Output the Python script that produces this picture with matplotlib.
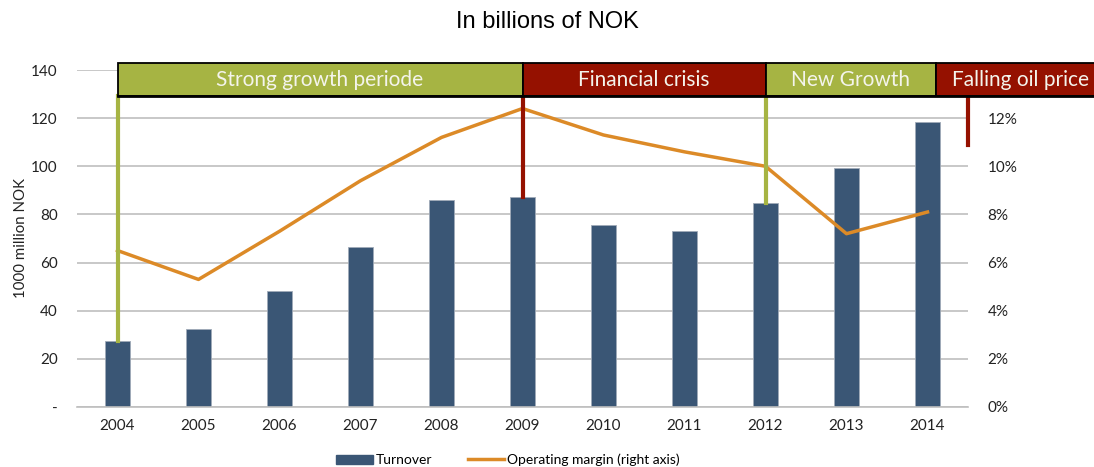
import matplotlib
matplotlib.use("Agg")
import matplotlib.pyplot as plt
from matplotlib.patches import Rectangle, Patch
from matplotlib.lines import Line2D

years = ["2004", "2005", "2006", "2007", "2008", "2009", "2010", "2011", "2012", "2013", "2014"]
turnover = [27.5, 32.5, 48.0, 66.5, 85.8, 87.4, 75.7, 73.0, 84.7, 99.1, 118.5]
margin = [0.065, 0.053, 0.073, 0.094, 0.112, 0.124, 0.113, 0.106, 0.100, 0.072, 0.081]

period_labels = ["Strong growth periode", "Financial crisis", "New Growth", "Falling oil price"]
period_start = [0, 5, 8, 10.11]
period_end = [5, 8, 10.11, 12.2]
period_text_x = [2.5, 6.5, 9.055, 11.15]
period_colors = ["#A6B443", "#951100", "#A6B443", "#951100"]
marker_x = [0, 5, 8, 10.5]
marker_bottom = [27.5, 87.4, 84.7, 109]
marker_colors = ["#A6B443", "#951100", "#A6B443", "#951100"]

BAR = "#3A5675"
LINE = "#DC8A27"
GRID = "#BFBFBF"
FONT = "Lato"

fig = plt.figure(figsize=(10.94, 4.67), dpi=100)
ax = fig.add_axes([77/1094, 1-407/467, (968-77)/1094, (407-70)/467])
ax2 = ax.twinx()

x = list(range(len(years)))
ax.bar(x, turnover, width=0.31, color=BAR, edgecolor="#A0AAB8", linewidth=0.6, zorder=2)
ax.set_xlim(-0.5, 10.5)
ax.set_ylim(0, 140)
ax.set_yticks(range(0, 141, 20))
ax.set_yticklabels(["-"] + [str(v) for v in range(20, 141, 20)])
ax.yaxis.grid(True, color=GRID, linewidth=1.2, zorder=0)
ax.set_axisbelow(True)
ax.set_xticks(x)
ax.set_xticklabels(years)
for s in ax.spines.values():
    s.set_visible(False)
ax.spines["bottom"].set_visible(True)
ax.spines["bottom"].set_color(GRID)
ax.spines["bottom"].set_linewidth(1.2)
ax.tick_params(axis="both", length=0, labelsize=11, colors="#222222", labelfontfamily=FONT)
ax.tick_params(axis="y", pad=14)
ax.tick_params(axis="x", pad=9)
ax.set_ylabel("1000 million NOK", fontsize=10.8, family=FONT, color="#222222", labelpad=2)

ax2.plot(x, margin, color=LINE, linewidth=2.5, zorder=3)
ax2.set_ylim(0, 0.14)
ax2.set_yticks([i/100 for i in range(0, 15, 2)])
ax2.set_yticklabels([f"{i}%" for i in range(0, 13, 2)] + [""])
for s in ax2.spines.values():
    s.set_visible(False)
ax2.tick_params(axis="y", length=0, labelsize=11, colors="#222222", labelfontfamily=FONT, pad=14)

# vertical marker lines and period banners (drawn on ax2 in ax data coords)
trans = ax.transData
for mx, mb, mc in zip(marker_x, marker_bottom, marker_colors):
    ax2.add_line(Line2D([mx, mx], [mb, 129], transform=trans, color=mc, linewidth=3, zorder=4, clip_on=False))
for lab, s, e, tx, c in zip(period_labels, period_start, period_end, period_text_x, period_colors):
    r = Rectangle((s, 129), e - s, 14, transform=trans, facecolor=c, edgecolor="black",
                  linewidth=1.3, zorder=5, clip_on=False)
    ax2.add_patch(r)
    ax2.text(tx, 136, lab, transform=trans, ha="center", va="center", color="#F4F4EC",
             fontsize=15, family=FONT, zorder=6, clip_on=False)
ax2.add_line(Line2D([0, 12.2], [129, 129], transform=trans, color="black", linewidth=2, zorder=6, clip_on=False))

fig.text(0.5, 1-22/467, "In billions of NOK", ha="center", va="center", fontsize=17,
         family="Liberation Sans", color="black")

handles = [Patch(facecolor=BAR, edgecolor=BAR), Line2D([0], [0], color=LINE, linewidth=2.5)]
fig.legend(handles, ["Turnover", "Operating margin (right axis)"], loc="center",
           bbox_to_anchor=(508/1094, 1-460/467), ncol=2, frameon=False,
           prop={"family": FONT, "size": 10}, handlelength=2.6, handletextpad=0.2, columnspacing=2.6)

fig.savefig("out.png", dpi=100)
